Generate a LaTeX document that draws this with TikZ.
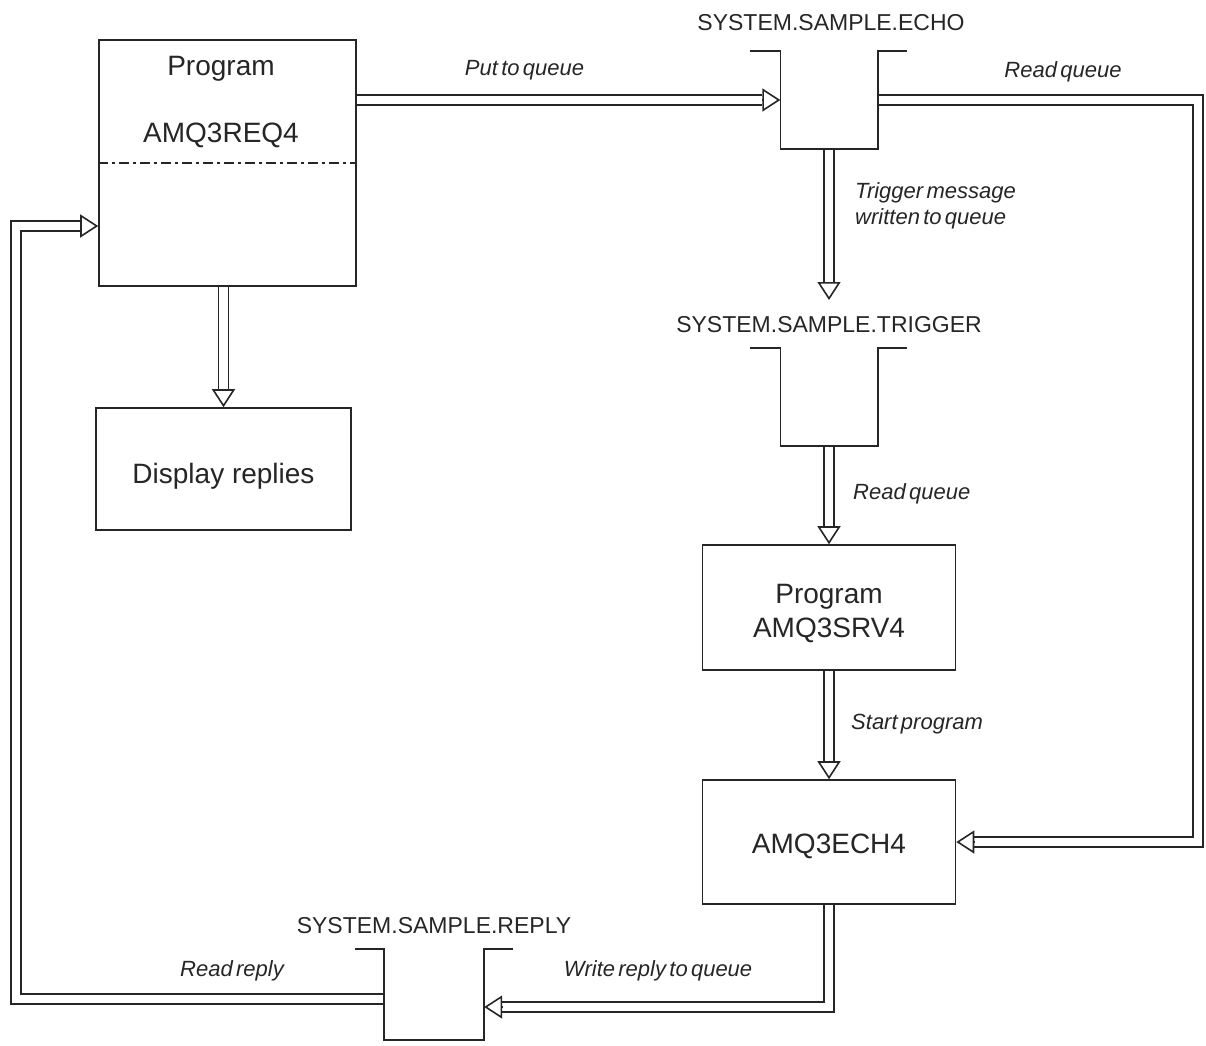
\documentclass[tikz,border=0pt]{standalone}
\usepackage{fontspec}
\setmainfont{Liberation Sans}
\usetikzlibrary{arrows.meta,backgrounds}
\newcommand\itlabfont{\fontsize{22}{26}\selectfont\itshape\spaceskip=3.3pt plus 1pt\relax}
\begin{document}
\begin{tikzpicture}[x=1pt,y=-1pt,
  ln/.style={draw=black!85, line width=1.6pt},
  boxst/.style={ln, rectangle, inner sep=0pt},
  qb/.style={rectangle, inner sep=0pt, minimum width=97pt, minimum height=98pt},
  dbl/.style={draw=black!85, line width=1.6pt, double=white, double distance=8.4pt},
  tipst/.style={draw=black!85, line width=1.6pt, -{Triangle[length=18pt,width=23pt,fill=white]}},
  big/.style={font=\fontsize{28}{32}\selectfont, inner sep=0pt, anchor=base, text=black!85},
  qlab/.style={font=\fontsize{23}{27}\selectfont, inner sep=0pt, anchor=base, text=black!85},
  ital/.style={font=\itlabfont, inner sep=0pt, text=black!85}
]
\useasboundingbox (0,0) rectangle (1206,1045);

% boxes
\node[boxst, minimum width=257pt, minimum height=246pt] (prog) at (227.5,163) {};
\node[boxst, minimum width=255pt, minimum height=122pt] (disp) at (223.5,469) {};
\node[boxst, minimum width=253pt, minimum height=125pt] (srv) at (829,607.5) {};
\node[boxst, minimum width=253pt, minimum height=124pt] (ech) at (829,842) {};
\draw[ln, line width=1.5pt, dash pattern=on 10pt off 4pt on 3pt off 4pt] (prog.west) -- (prog.east);

% queues
\node[qb] (echo) at (829,100) {};
\node[qb] (trig) at (829,397) {};
\node[qb, minimum width=100pt, minimum height=91pt] (reply) at (434,994.5) {};
\draw[ln] ([xshift=-30pt]echo.north west) -- (echo.north west) -- (echo.south west) -- (echo.south east) -- (echo.north east) -- ([xshift=29pt]echo.north east);
\draw[ln] ([xshift=-30pt]trig.north west) -- (trig.north west) -- (trig.south west) -- (trig.south east) -- (trig.north east) -- ([xshift=29pt]trig.north east);
\draw[ln] ([xshift=-29pt]reply.north west) -- (reply.north west) -- (reply.south west) -- (reply.south east) -- (reply.north east) -- ([xshift=29pt]reply.north east);

% texts
\node[big] (t1) at (221,75) {Program};
\node[big] (t2) at (221,142) {AMQ3REQ4};
\node[big] (t3) at (223.5,483) {Display replies};
\node[big] (t4) at (829,603) {Program};
\node[big] (t5) at (829,637) {AMQ3SRV4};
\node[big] (t6) at (829,853) {AMQ3ECH4};
\node[qlab] (l1) at (831,30) {SYSTEM.SAMPLE.ECHO};
\node[qlab] (l2) at (829,332) {SYSTEM.SAMPLE.TRIGGER};
\node[qlab] (l3) at (434,933) {SYSTEM.SAMPLE.REPLY};
\node[ital, anchor=base] (i1) at (524.5,75) {Put to queue};
\node[ital, anchor=base] (i2) at (1063,77) {Read queue};
\node[ital, anchor=base west] (i3) at (855,198) {Trigger message};
\node[ital, anchor=base west] (i4) at (855,224) {written to queue};
\node[ital, anchor=base west] (i5) at (853,499) {Read queue};
\node[ital, anchor=base west] (i6) at (851,729) {Start program};
\node[ital, anchor=base] (i7) at (658,976) {Write reply to queue};
\node[ital, anchor=base] (i8) at (232,976) {Read reply};

% helper coordinates
\coordinate (trtip) at (829,300);
\coordinate (rq1) at (1198,100);
\coordinate (rqend) at (rq1 |- ech.east);
\coordinate (wr) at (829,1007);
\coordinate (wrend) at (reply.east |- wr);
\coordinate (rr) at (16,999);
\coordinate (rl) at (16,226);
\coordinate (rlend) at (prog.west |- rl);
\coordinate (pq) at (prog.east |- echo.west);
\coordinate (pd) at (disp.north |- prog.south);

\begin{scope}[on background layer]
\draw[dbl] (pq) -- ([xshift=-18pt]echo.west);
\draw[dbl] (echo.east) -- (rq1) -- (rqend) -- ([xshift=18pt]ech.east);
\draw[dbl] (echo.south) -- ([yshift=18pt]trtip);
\draw[dbl] (trig.south) -- ([yshift=18pt]srv.north);
\draw[dbl] (srv.south) -- ([yshift=18pt]ech.north);
\draw[dbl] (ech.south) -- (wr) -- ([xshift=18pt]wrend);
\draw[dbl] (reply.west |- rr) -- (rr) -- (rl) -- ([xshift=-18pt]rlend);
\draw[dbl] (pd) -- ([yshift=18pt]disp.north);
\end{scope}

\draw[tipst] ([xshift=-18pt]echo.west) -- (echo.west);
\draw[tipst] ([xshift=18pt]ech.east) -- (ech.east);
\draw[tipst] ([yshift=18pt]trtip) -- (trtip);
\draw[tipst] ([yshift=18pt]srv.north) -- (srv.north);
\draw[tipst] ([yshift=18pt]ech.north) -- (ech.north);
\draw[tipst] ([xshift=18pt]wrend) -- (wrend);
\draw[tipst] ([xshift=-18pt]rlend) -- (rlend);
\draw[tipst] ([yshift=18pt]disp.north) -- (disp.north);
\end{tikzpicture}
\end{document}
